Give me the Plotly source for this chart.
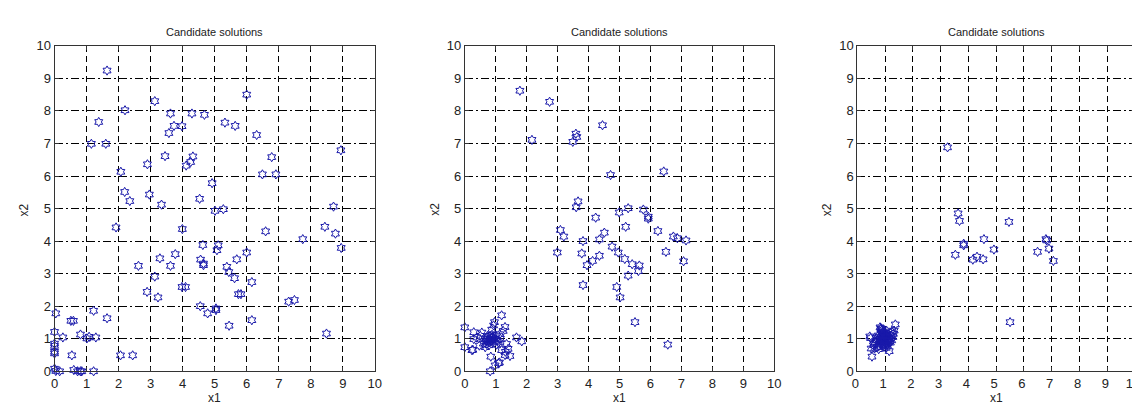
import plotly.graph_objects as go

# ---------------- data ----------------
p1_x = [1.64,1.38,1.15,1.60,2.20,3.13,3.62,3.73,3.57,3.98,
        4.29,4.68,5.32,5.64,6.00,6.31,3.45,2.90,4.11,4.25,
        4.32,6.78,6.49,6.91,8.94,2.07,2.19,2.35,2.96,3.34,
        4.53,4.92,5.27,8.71,5.01,1.92,3.99,6.59,8.44,8.77,
        7.75,8.95,4.63,5.11,5.07,3.29,3.77,2.62,3.62,4.56,
        4.65,4.65,5.69,6.00,5.38,5.44,5.62,6.16,3.13,2.89,
        3.23,3.98,4.09,5.74,5.82,7.31,7.49,4.55,4.78,5.04,
        5.04,6.16,5.45,8.49,0.04,1.22,1.64,0.51,0.59,0.00,
        0.26,0.81,1.01,1.08,1.29,0.00,0.00,0.00,0.00,0.54,
        2.06,2.44,0.00,0.04,0.16,0.60,0.72,0.81,0.85,1.22]
p1_y = [9.24,7.66,6.99,6.99,8.02,8.30,7.92,7.54,7.32,7.53,
        7.92,7.88,7.64,7.54,8.50,7.26,6.61,6.36,6.32,6.43,
        6.60,6.58,6.05,6.05,6.79,6.13,5.51,5.23,5.43,5.12,
        5.30,5.78,4.98,5.06,4.93,4.42,4.37,4.30,4.44,4.23,
        4.06,3.79,3.88,3.87,3.72,3.47,3.60,3.24,3.24,3.43,
        3.31,3.26,3.44,3.65,3.21,3.05,2.86,2.74,2.91,2.44,
        2.27,2.59,2.59,2.37,2.37,2.14,2.19,2.00,1.78,1.93,
        1.88,1.57,1.40,1.16,1.78,1.86,1.63,1.55,1.55,1.21,
        1.04,1.13,1.01,1.06,1.04,0.85,0.78,0.60,0.55,0.49,
        0.49,0.49,0.08,0.01,0.00,0.04,0.00,0.00,0.00,0.00]

p2_x = [1.78,2.74,2.17,3.49,3.59,3.62,4.45,4.71,6.43,3.66,
        3.60,5.28,4.99,5.77,5.93,5.93,4.23,5.20,6.24,6.74,
        6.87,7.15,3.09,3.20,3.82,4.35,4.51,4.76,2.99,3.78,
        4.35,4.13,3.95,4.96,5.17,5.41,5.64,5.61,5.28,6.50,
        7.07,3.82,4.91,5.02,5.50,6.56,
        0.00,0.00,1.19,0.96,0.93,0.87,1.30,1.24,1.13,0.29,
        0.39,0.55,0.66,0.77,0.87,0.98,0.71,0.66,0.26,0.47,
        1.09,1.35,1.40,1.19,1.30,1.46,0.84,1.12,0.98,0.82,
        1.67,1.84,0.82,0.50,0.29,0.23,1.09,1.31,0.75,0.80,
        0.90,1.00,1.05,0.70,0.85,0.95,1.15,0.60,0.78,0.92,
        1.02,0.88,0.73,0.83]
p2_y = [8.62,8.28,7.11,7.05,7.30,7.20,7.56,6.03,6.14,5.22,
        5.04,5.01,4.88,4.97,4.75,4.69,4.72,4.44,4.31,4.14,
        4.09,4.02,4.34,4.14,4.00,4.05,4.26,3.83,3.65,3.62,
        3.55,3.39,3.26,3.65,3.45,3.29,3.25,3.08,2.94,3.67,
        3.38,2.65,2.59,2.27,1.51,0.82,
        1.35,0.74,1.72,1.51,1.41,1.28,1.36,1.24,1.14,0.99,
        1.04,1.19,0.99,0.94,0.94,0.99,0.84,0.74,0.66,0.79,
        0.89,0.84,0.69,0.65,0.50,0.47,0.45,0.27,0.18,0.00,
        1.04,0.92,1.09,1.09,1.20,0.65,0.25,0.60,1.00,0.90,
        1.05,1.10,0.95,0.92,1.02,0.88,1.00,0.85,0.80,1.00,
        0.82,1.12,1.08,0.97]

p3_x = [3.25,3.63,3.68,5.46,3.53,3.83,3.83,4.56,4.92,4.16,
        4.31,4.53,6.49,6.79,6.82,6.90,7.06,5.50,
        0.45,0.50,0.53,1.37,1.15,0.48,0.60,0.70,0.78,0.85,
        0.88,0.90,0.92,0.95,0.97,1.00,1.02,1.05,1.08,1.10,
        1.12,1.15,1.20,1.25,0.82,0.86,0.90,0.94,0.98,1.03,
        1.07,0.80,0.84,0.88,0.93,0.96,1.00,1.04,1.09,1.13,
        1.18,1.22,1.28,0.75,0.79,0.83,0.87,0.91,0.95,0.99,
        1.06,1.11,0.65,0.72,0.58,1.30,1.33,0.62,0.91,0.97,
        1.01,0.89,0.93,0.86,1.16,1.24,0.77,0.68,1.19,1.05]
p3_y = [6.88,4.85,4.62,4.59,3.58,3.92,3.87,4.06,3.74,3.43,
        3.52,3.44,3.67,4.06,4.02,3.77,3.39,1.51,
        1.07,0.70,0.45,1.44,0.62,1.02,0.85,0.95,0.78,1.30,
        1.25,1.20,1.15,1.10,1.05,1.00,0.95,0.90,1.12,1.05,
        0.88,1.00,1.18,1.22,1.35,1.32,1.28,1.22,1.18,1.14,
        1.08,0.95,0.90,0.85,0.80,0.75,0.82,0.72,0.78,0.92,
        0.98,1.10,1.05,1.10,1.05,1.00,0.95,1.00,0.92,0.88,
        0.85,0.96,0.90,0.75,0.80,1.15,1.25,0.70,1.08,1.02,
        1.12,1.00,0.97,1.15,1.02,0.95,0.68,1.02,0.88,1.25]

tick_vals = [0, 1, 2, 3, 4, 5, 6, 7, 8, 9, 10]
tick_text = [str(v) for v in tick_vals]
title_text = "Candidate solutions"
xlabel = "x1"
ylabel = "x2"

# ---------------- figure ----------------
W, H = 1140, 405
FONT = "Liberation Sans, Arial, sans-serif"
MARK = "rgb(25,25,170)"
TXT = "#222222"

# pixel extents of each plot box [left, right]
boxes = [(41, 365), (456, 769), (853, 1134)]
top_px, bot_px = 32, 370
ydom = [1 - bot_px / H, 1 - top_px / H]

panels = [(p1_x, p1_y), (p2_x, p2_y), (p3_x, p3_y)]

fig = go.Figure()
annotations = []
for i, ((xs, ys), (l, r)) in enumerate(zip(panels, boxes)):
    n = "" if i == 0 else str(i + 1)
    fig.add_trace(go.Scatter(
        x=xs, y=ys, mode="markers", xaxis="x" + n, yaxis="y" + n,
        marker=dict(symbol="hexagram-open", size=7, color=MARK,
                    line=dict(color=MARK, width=1)),
        cliponaxis=False, showlegend=False, hoverinfo="x+y"))
    axcommon = dict(range=[0, 10], tickvals=tick_vals, ticktext=tick_text,
                    showgrid=True, gridcolor="black", gridwidth=1,
                    zeroline=False, showline=True, linecolor="#333333",
                    linewidth=1, mirror="ticks", ticks="inside", ticklen=4,
                    tickcolor="#333333",
                    tickfont=dict(family=FONT, size=13, color=TXT))
    xextra = dict(ticklabelshift=-2) if i == 2 else {}
    fig.update_layout(**{
        "xaxis" + n: dict(domain=[l / W, r / W], anchor="y" + n,
                          griddash="6px,4px", **axcommon, **xextra),
        "yaxis" + n: dict(domain=ydom, anchor="x" + n,
                          griddash="8px,3px,2px,3px", **axcommon),
    })
    cx = (l + r) / 2 / W
    annotations.append(dict(text=title_text, x=cx, y=1 - 18 / H, xref="paper",
                            yref="paper", showarrow=False, xanchor="center",
                            yanchor="middle",
                            font=dict(family=FONT, size=11, color=TXT)))
    annotations.append(dict(text=xlabel, x=cx, y=1 - 398 / H, xref="paper",
                            yref="paper", showarrow=False, xanchor="center",
                            yanchor="middle",
                            font=dict(family=FONT, size=12, color=TXT)))
    annotations.append(dict(text=ylabel, x=(l - 31) / W, y=1 - 202 / H,
                            xref="paper", yref="paper", showarrow=False,
                            textangle=-90, xanchor="center", yanchor="middle",
                            font=dict(family=FONT, size=12, color=TXT)))

fig.update_layout(width=W, height=H, margin=dict(l=0, r=0, t=0, b=0),
                  paper_bgcolor="white", plot_bgcolor="white",
                  annotations=annotations, showlegend=False)

fig.write_html("out.html")
